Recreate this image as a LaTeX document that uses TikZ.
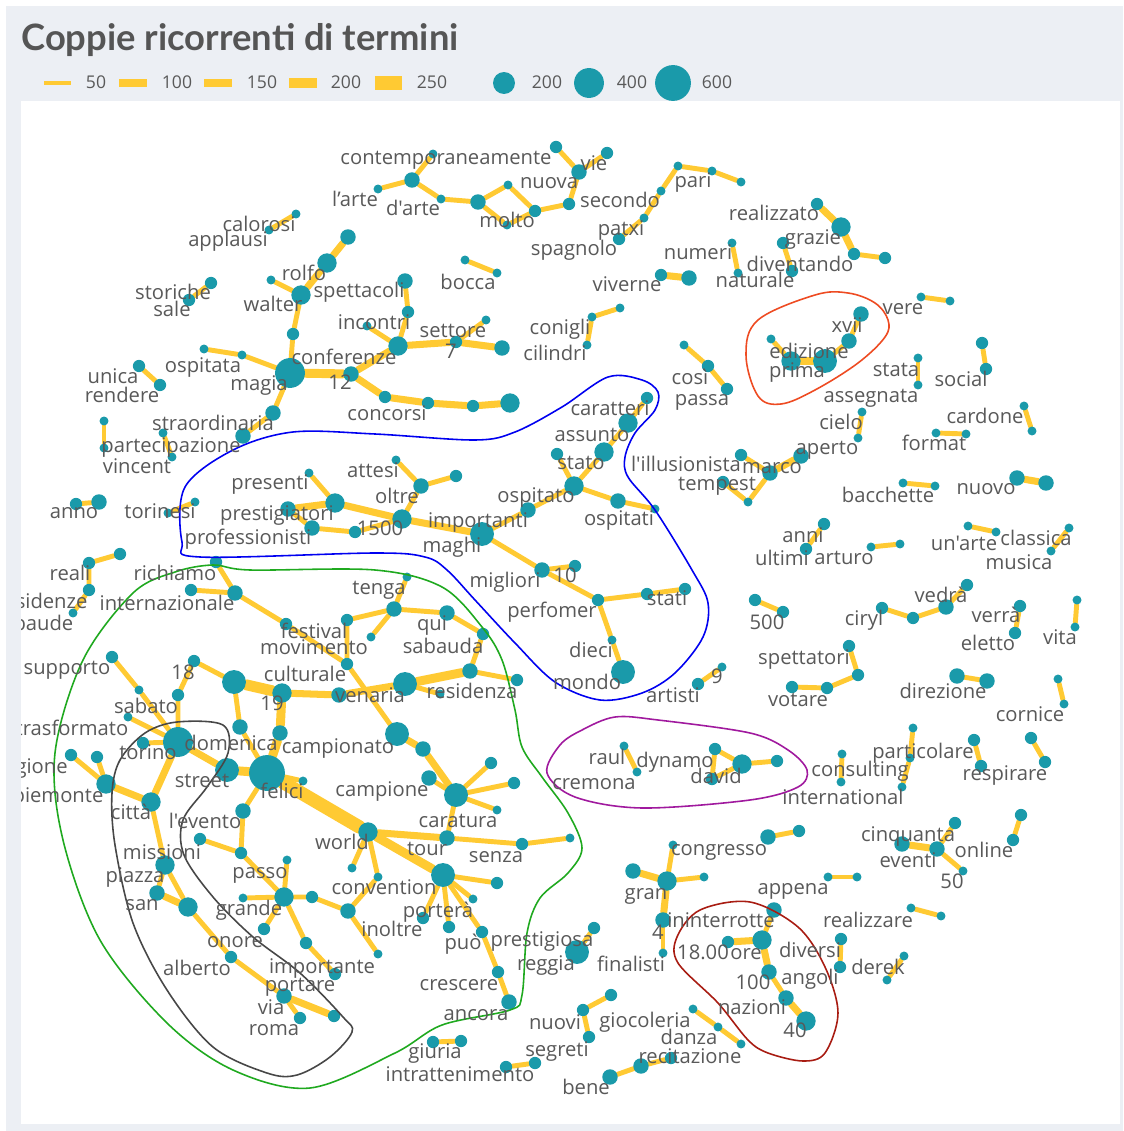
\documentclass[tikz,border=0pt]{standalone}
\usepackage{fontspec}
\setmainfont{Open Sans}[Ligatures=TeXOff]
\newfontfamily\titlefont{Lato}
\usetikzlibrary{backgrounds}

\definecolor{nodeteal}{HTML}{1A9AAA}
\definecolor{edgeyellow}{HTML}{FFCA33}
\definecolor{wordgrey}{HTML}{595959}
\definecolor{titlegrey}{HTML}{555555}
\definecolor{panelgrey}{HTML}{ECEFF4}
\definecolor{hullblue}{HTML}{0000F0}
\definecolor{hullorange}{HTML}{EE4B22}
\definecolor{hullgreen}{HTML}{1FA91F}
\definecolor{hullpurple}{HTML}{A0199E}
\definecolor{hullred}{HTML}{A81C12}
\definecolor{hullgrey}{HTML}{474747}

\begin{document}
\begin{tikzpicture}[x=0.02cm,y=-0.02cm,
  dot1/.style={circle,fill=nodeteal,inner sep=0pt,minimum size=5.1pt},
  dot2/.style={dot1,minimum size=7pt},
  dot3/.style={dot1,minimum size=8.8pt},
  dot4/.style={dot1,minimum size=11pt},
  dot5/.style={dot1,minimum size=13.6pt},
  dot6/.style={dot1,minimum size=17pt},
  dot7/.style={dot1,minimum size=20.4pt},
  link1/.style={draw=edgeyellow,line width=2.8pt,line cap=round},
  link2/.style={link1,line width=4pt},
  link3/.style={link1,line width=5.1pt},
  link4/.style={link1,line width=6.2pt},
  link5/.style={link1,line width=7.6pt},
  lbl/.style={font=\fontsize{11.5}{12.5}\selectfont,text=wordgrey,inner sep=0pt,anchor=mid,yshift=-1.8pt},
  key/.style={font=\fontsize{10}{11}\selectfont,text=wordgrey,inner sep=0pt,anchor=mid},
  hull/.style={line width=0.9pt},
  ]

  \useasboundingbox (0,0) rectangle (1123,1131);
  \begin{pgfonlayer}{background}
    \fill[panelgrey] (6,6) rectangle (1123,1131);
    \fill[white] (21,101) rectangle (1120,1124);
  \end{pgfonlayer}

  % title
  \node[anchor=base west,inner sep=0pt,text=titlegrey,
    font=\titlefont\bfseries\fontsize{20.7}{24}\selectfont] (title) at (21,51) {Coppie ricorrenti di termini};

  % legend
  \draw[link1,line cap=butt] (44,83) -- (71,83);
  \node[key] (k50) at (96,84) {50};
  \draw[link2,line cap=butt] (119,83) -- (147,83);
  \node[key] (k100) at (177,84) {100};
  \draw[link3,line cap=butt] (204,83) -- (232,83);
  \node[key] (k150) at (262,84) {150};
  \draw[link4,line cap=butt] (289,83) -- (317,83);
  \node[key] (k200) at (346,84) {200};
  \draw[link5,line cap=butt] (375,83) -- (402,83);
  \node[key] (k250) at (432,84) {250};
  \node[dot1,minimum size=12.5pt] (c200) at (504,83) {};
  \node[key] (kc200) at (547,84) {200};
  \node[dot1,minimum size=17pt] (c400) at (589,83) {};
  \node[key] (kc400) at (632,84) {400};
  \node[dot1,minimum size=20.4pt] (c600) at (673,83) {};
  \node[key] (kc600) at (717,84) {600};

  % l'arte, molto, vie
  \node[dot1] (larte) at (378,189) {};
  \node[dot3] (arte) at (412,180) {};
  \node[dot1] (contemp) at (433,154) {};
  \node[dot1] (darte) at (441,199) {};
  \node[dot3] (molto) at (478,202) {};
  \node[dot1] (molto2) at (508,185) {};
  \node[dot1] (molto3) at (507,225) {};
  \node[dot2] (nuova) at (535,211) {};
  \node[dot2] (secondo) at (569,204) {};
  \node[dot3] (vie) at (579,172) {};
  \node[dot2] (vie2) at (556,147) {};
  \node[dot2] (vie3) at (607,153) {};

  % pari, patxi
  \node[dot2] (spagnolo) at (619,239) {};
  \node[dot1] (patxi) at (644,218) {};
  \node[dot1] (pari3) at (661,191) {};
  \node[dot1] (pari) at (678,166) {};
  \node[dot1] (pari1) at (712,171) {};
  \node[dot1] (pari2) at (741,182) {};

  % grazie, diventando, numeri
  \node[dot2] (realiz) at (817,204) {};
  \node[dot4] (grazie) at (841,227) {};
  \node[dot2] (grazie2) at (854,254) {};
  \node[dot2] (grazie3) at (885,258) {};
  \node[dot2] (divent) at (783,243) {};
  \node[dot2] (natur) at (792,271) {};
  \node[dot1] (numeri) at (732,243) {};
  \node[dot1] (numeri2) at (738,273) {};

  % bocca, viverne, calorosi
  \node[dot1] (bocca) at (465,260) {};
  \node[dot1] (bocca2) at (497,273) {};
  \node[dot2] (viverne) at (661,275) {};
  \node[dot3] (viverne2) at (689,278) {};
  \node[dot1] (calorosi) at (296,214) {};
  \node[dot1] (applausi) at (269,230) {};

  % magia, conferenze
  \node[dot3] (rolfo2) at (348,237) {};
  \node[dot4] (rolfo) at (327,263) {};
  \node[dot1] (walter2) at (271,280) {};
  \node[dot4] (walter) at (301,295) {};
  \node[dot2] (magia3) at (293,334) {};
  \node[dot6] (magia) at (290,373) {};
  \node[dot1] (ospitata) at (204,349) {};
  \node[dot1] (ospitata2) at (242,355) {};
  \node[dot3] (dodici) at (351,374) {};
  \node[dot3] (straord) at (273,413) {};
  \node[dot3] (straord2) at (243,436) {};
  \node[dot3] (spettac) at (405,281) {};
  \node[dot2] (incontri) at (408,312) {};
  \node[dot1] (incontri2) at (367,326) {};
  \node[dot4] (confer) at (398,346) {};
  \node[dot2] (sette) at (456,342) {};
  \node[dot1] (settore) at (486,320) {};
  \node[dot3] (settore3) at (502,348) {};
  \node[dot2] (conc1) at (385,397) {};
  \node[dot2] (conc2) at (428,403) {};
  \node[dot2] (conc3) at (473,406) {};
  \node[dot4] (conc4) at (510,403) {};

  % storiche, unica, partecipazione, anno, torinesi
  \node[dot2] (storiche) at (211,283) {};
  \node[dot2] (sale) at (189,300) {};
  \node[dot2] (unica) at (139,366) {};
  \node[dot2] (rendere) at (160,385) {};
  \node[dot1] (partec) at (104,421) {};
  \node[dot1] (partec2) at (104,448) {};
  \node[dot1] (vincent) at (163,433) {};
  \node[dot1] (vincent2) at (172,457) {};
  \node[dot2] (anno) at (76,504) {};
  \node[dot3] (anno2) at (99,502) {};
  \node[dot1] (torinesi) at (168,513) {};
  \node[dot1] (torinesi2) at (195,502) {};

  % maghi, ospitato, mondo
  \node[dot1] (presenti) at (309,473) {};
  \node[dot4] (prestig) at (335,503) {};
  \node[dot3] (prestig2) at (288,509) {};
  \node[dot3] (profess) at (312,528) {};
  \node[dot2] (profess2) at (355,532) {};
  \node[dot4] (mille) at (402,519) {};
  \node[dot3] (oltre) at (421,486) {};
  \node[dot2] (oltre2) at (456,476) {};
  \node[dot1] (attesi) at (396,460) {};
  \node[dot5] (maghi) at (482,534) {};
  \node[dot3] (importanti) at (528,510) {};
  \node[dot4] (ospitato) at (574,486) {};
  \node[dot2] (stato) at (557,454) {};
  \node[dot4] (assunto) at (604,452) {};
  \node[dot4] (caratteri) at (628,423) {};
  \node[dot2] (caratteri2) at (647,398) {};
  \node[dot3] (ospitati) at (618,501) {};
  \node[dot1] (ospitati2) at (655,509) {};
  \node[dot3] (migliori) at (542,570) {};
  \node[dot2] (dieci10) at (575,566) {};
  \node[dot2] (perfomer) at (598,600) {};
  \node[dot2] (stati) at (647,594) {};
  \node[dot2] (stati2) at (685,589) {};
  \node[dot1] (dieci) at (612,640) {};
  \node[dot5] (mondo) at (623,672) {};

  % cosi, conigli
  \node[dot1] (cosi) at (684,345) {};
  \node[dot2] (cosi2) at (708,366) {};
  \node[dot2] (passa) at (727,389) {};
  \node[dot1] (conigli) at (620,308) {};
  \node[dot1] (conigli2) at (592,317) {};
  \node[dot1] (cilindri) at (587,345) {};

  % edizione, prima, xvii
  \node[dot1] (edizione) at (771,339) {};
  \node[dot4] (prima) at (791,361) {};
  \node[dot5] (prima2) at (825,361) {};
  \node[dot3] (xvii2) at (849,341) {};
  \node[dot3] (xvii) at (861,314) {};

  % small pairs on the right
  \node[dot1] (vere) at (921,297) {};
  \node[dot1] (vere2) at (950,301) {};
  \node[dot1] (stata) at (918,358) {};
  \node[dot1] (assegnata) at (918,385) {};
  \node[dot2] (social) at (982,343) {};
  \node[dot2] (social2) at (986,369) {};
  \node[dot1] (cielo) at (862,412) {};
  \node[dot1] (cielo2) at (858,438) {};
  \node[dot1] (cardone) at (1024,406) {};
  \node[dot1] (cardone2) at (1032,431) {};
  \node[dot1] (format) at (936,433) {};
  \node[dot1] (format2) at (966,434) {};
  \node[dot1] (bacchette) at (903,483) {};
  \node[dot1] (bacchette2) at (935,486) {};
  \node[dot3] (nuovo) at (1017,478) {};
  \node[dot3] (nuovo2) at (1046,483) {};
  \node[dot2] (anni) at (824,524) {};
  \node[dot2] (ultimi) at (806,549) {};
  \node[dot1] (arturo) at (871,547) {};
  \node[dot1] (arturo2) at (900,544) {};
  \node[dot1] (unarte) at (968,526) {};
  \node[dot1] (unarte2) at (996,532) {};
  \node[dot1] (classica) at (1069,528) {};
  \node[dot1] (musica) at (1051,551) {};

  % l'illusionista, marco, aperto
  \node[dot2] (illus) at (741,455) {};
  \node[dot3] (marco) at (770,473) {};
  \node[dot3] (aperto) at (801,456) {};
  \node[dot1] (tempest) at (748,502) {};
  \node[dot2] (tempest2) at (723,482) {};

  % reali, richiamo
  \node[dot2] (reali) at (120,554) {};
  \node[dot2] (reali2) at (89,563) {};
  \node[dot2] (residenze) at (89,590) {};
  \node[dot1] (sabaude) at (73,613) {};
  \node[dot2] (richiamo) at (216,562) {};
  \node[dot3] (internaz) at (235,593) {};
  \node[dot2] (internaz2) at (191,590) {};
  \node[dot2] (festival) at (286,624) {};

  % tenga, venaria, residenza
  \node[dot1] (tenga1) at (407,577) {};
  \node[dot3] (tenga) at (394,609) {};
  \node[dot2] (tenga2) at (347,620) {};
  \node[dot1] (tenga3) at (371,637) {};
  \node[dot2] (movim) at (347,664) {};
  \node[dot3] (qui) at (447,613) {};
  \node[dot2] (sabauda) at (483,634) {};
  \node[dot3] (resid) at (470,671) {};
  \node[dot2] (resid2) at (517,680) {};
  \node[dot5] (venaria) at (405,684) {};
  \node[dot1] (venaria2) at (440,694) {};
  \node[dot3] (venaria3) at (339,695) {};

  % domenica, felici
  \node[dot4] (dicianove) at (282,693) {};
  \node[dot5] (cultur) at (234,682) {};
  \node[dot2] (diciotto) at (194,661) {};
  \node[dot2] (diciotto2) at (178,695) {};
  \node[dot6] (domenica) at (178,742) {};
  \node[dot2] (supporto) at (112,657) {};
  \node[dot1] (supporto2) at (139,690) {};
  \node[dot1] (sabato) at (128,717) {};
  \node[dot2] (torino) at (143,743) {};
  \node[dot3] (campion1) at (240,727) {};
  \node[dot3] (campion2) at (280,733) {};
  \node[dot5] (street) at (227,770) {};
  \node[dot7] (felici) at (267,773) {};
  \node[dot1] (felici2) at (303,781) {};
  \node[dot4] (world) at (368,832) {};
  \node[dot4] (citta) at (151,802) {};
  \node[dot4] (piemonte) at (106,784) {};
  \node[dot2] (regione) at (71,755) {};
  \node[dot2] (regione2) at (97,757) {};
  \node[dot3] (evento) at (243,811) {};

  % missioni, grande, via
  \node[dot2] (passo0) at (200,839) {};
  \node[dot2] (passo) at (241,853) {};
  \node[dot4] (missioni) at (165,865) {};
  \node[dot3] (san) at (157,893) {};
  \node[dot4] (piazza) at (188,907) {};
  \node[dot2] (onore) at (231,957) {};
  \node[dot3] (via) at (284,996) {};
  \node[dot2] (roma) at (300,1018) {};
  \node[dot2] (via2) at (334,1016) {};
  \node[dot4] (grande) at (284,897) {};
  \node[dot1] (grande1) at (287,860) {};
  \node[dot1] (grande2) at (243,898) {};
  \node[dot2] (grande3) at (312,897) {};
  \node[dot2] (grande4) at (264,929) {};
  \node[dot2] (grande5) at (306,943) {};
  \node[dot2] (importante) at (335,974) {};
  \node[dot3] (inoltre) at (348,911) {};
  \node[dot1] (conv1) at (352,868) {};
  \node[dot1] (conv2) at (378,877) {};
  \node[dot1] (inoltre2) at (378,954) {};

  % campionato, caratura, porterà
  \node[dot5] (campion) at (397,734) {};
  \node[dot3] (campione1) at (423,749) {};
  \node[dot3] (campione2) at (429,778) {};
  \node[dot5] (caratura) at (456,795) {};
  \node[dot2] (carat1) at (491,763) {};
  \node[dot2] (carat2) at (514,783) {};
  \node[dot1] (carat3) at (497,810) {};
  \node[dot3] (tour) at (447,838) {};
  \node[dot2] (senza) at (522,844) {};
  \node[dot1] (senza2) at (570,838) {};
  \node[dot5] (portera) at (443,875) {};
  \node[dot2] (port1) at (497,883) {};
  \node[dot1] (port2) at (473,899) {};
  \node[dot2] (port3) at (423,918) {};
  \node[dot2] (port4) at (449,927) {};
  \node[dot2] (puo) at (482,932) {};
  \node[dot2] (crescere) at (498,972) {};
  \node[dot3] (ancora) at (509,1002) {};

  % reggia, gran, finalisti
  \node[dot5] (reggia) at (577,952) {};
  \node[dot2] (prestigiosa) at (594,928) {};
  \node[dot3] (gran) at (633,871) {};
  \node[dot4] (gran2) at (667,881) {};
  \node[dot1] (congresso) at (673,845) {};
  \node[dot1] (gran3) at (704,877) {};
  \node[dot3] (quattro) at (663,920) {};
  \node[dot1] (finalisti) at (663,953) {};
  \node[dot3] (congresso2) at (768,837) {};
  \node[dot2] (congresso3) at (799,831) {};

  % 18.00 ore, nazioni
  \node[dot3] (ininterr) at (774,910) {};
  \node[dot4] (ore) at (762,940) {};
  \node[dot2] (diciotto00) at (728,942) {};
  \node[dot3] (cento) at (769,972) {};
  \node[dot3] (nazioni) at (786,998) {};
  \node[dot4] (quaranta) at (806,1021) {};
  \node[dot2] (diversi) at (841,939) {};
  \node[dot2] (angoli) at (840,967) {};
  \node[dot1] (derek) at (904,956) {};
  \node[dot1] (derek2) at (887,980) {};
  \node[dot1] (realizzare) at (911,908) {};
  \node[dot1] (realizzare2) at (941,916) {};
  \node[dot1] (appena) at (828,877) {};
  \node[dot1] (appena2) at (857,877) {};

  % cinquanta, online
  \node[dot2] (cinquanta) at (955,823) {};
  \node[dot3] (eventi) at (937,849) {};
  \node[dot3] (eventi2) at (902,844) {};
  \node[dot1] (cinquanta50) at (963,871) {};
  \node[dot2] (online) at (1021,815) {};
  \node[dot2] (online2) at (1013,840) {};

  % giuria, nuovi, bene, danza
  \node[dot2] (giuria) at (433,1042) {};
  \node[dot2] (giuria2) at (461,1041) {};
  \node[dot2] (intratt) at (506,1067) {};
  \node[dot2] (intratt2) at (535,1063) {};
  \node[dot2] (giocoleria) at (611,995) {};
  \node[dot2] (nuovi) at (583,1010) {};
  \node[dot2] (segreti) at (589,1037) {};
  \node[dot3] (bene) at (610,1077) {};
  \node[dot3] (recitaz) at (641,1066) {};
  \node[dot2] (recitaz2) at (671,1058) {};
  \node[dot1] (danza) at (693,1009) {};
  \node[dot1] (danza2) at (718,1027) {};
  \node[dot1] (danza3) at (741,1044) {};

  % 500, ciryl, verrà, vita
  \node[dot2] (cinquecento) at (755,600) {};
  \node[dot2] (cinquecento2) at (783,612) {};
  \node[dot2] (ciryl) at (882,608) {};
  \node[dot2] (ciryl2) at (913,618) {};
  \node[dot3] (vedra) at (946,607) {};
  \node[dot2] (vedra2) at (967,585) {};
  \node[dot2] (verra) at (1020,606) {};
  \node[dot2] (eletto) at (1015,633) {};
  \node[dot1] (vita) at (1077,600) {};
  \node[dot1] (vita2) at (1075,627) {};

  % spettatori, direzione, cornice
  \node[dot2] (spettat) at (849,646) {};
  \node[dot2] (spettat2) at (858,675) {};
  \node[dot2] (votare) at (827,688) {};
  \node[dot2] (votare2) at (792,687) {};
  \node[dot3] (direzione) at (957,676) {};
  \node[dot3] (direzione2) at (987,681) {};
  \node[dot1] (cornice) at (1058,679) {};
  \node[dot1] (cornice2) at (1064,704) {};

  % consulting, particolare, respirare
  \node[dot1] (consult) at (842,754) {};
  \node[dot1] (internat) at (841,782) {};
  \node[dot1] (partic) at (913,728) {};
  \node[dot1] (partic2) at (910,758) {};
  \node[dot1] (partic3) at (902,787) {};
  \node[dot2] (respir) at (974,740) {};
  \node[dot2] (respir2) at (981,766) {};
  \node[dot2] (respir3) at (1031,738) {};
  \node[dot2] (respir4) at (1045,762) {};

  % artisti, raul, dynamo
  \node[dot2] (artisti) at (698,684) {};
  \node[dot1] (nove) at (722,667) {};
  \node[dot1] (raul) at (624,746) {};
  \node[dot1] (cremona) at (637,772) {};
  \node[dot2] (dynamo) at (715,749) {};
  \node[dot4] (david) at (742,764) {};
  \node[dot2] (david2) at (712,779) {};
  \node[dot2] (david3) at (777,761) {};

  % connectors
  \begin{pgfonlayer}{background}
    \draw[link1] (larte) -- (arte) -- (contemp);
    \draw[link1] (arte) -- (darte) -- (molto) -- (molto2) -- (nuova);
    \draw[link1] (molto) -- (molto3) -- (nuova) -- (secondo) -- (vie) -- (vie3);
    \draw[link1] (vie2) -- (vie);
    \draw[link1] (spagnolo) -- (patxi) -- (pari3) -- (pari) -- (pari1) -- (pari2);
    \draw[link2] (realiz) -- (grazie) -- (grazie2);
    \draw[link1] (grazie2) -- (grazie3);
    \draw[link1] (divent) -- (natur);
    \draw[link1] (numeri) -- (numeri2);
    \draw[link1] (bocca) -- (bocca2);
    \draw[link2] (viverne) -- (viverne2);
    \draw[link1] (calorosi) -- (applausi);

    \draw[link2] (rolfo2) -- (rolfo) -- (walter);
    \draw[link1] (walter2) -- (walter) -- (magia3) -- (magia);
    \draw[link1] (ospitata) -- (ospitata2) -- (magia);
    \draw[link3] (magia) -- (dodici);
    \draw[link2] (dodici) -- (confer);
    \draw[link1] (magia) -- (straord) -- (straord2);
    \draw[link2] (dodici) -- (conc1) -- (conc2) -- (conc3) -- (conc4);
    \draw[link1] (spettac) -- (incontri) -- (confer);
    \draw[link1] (incontri2) -- (confer);
    \draw[link2] (confer) -- (sette) -- (settore3);
    \draw[link1] (sette) -- (settore);

    \draw[link1] (storiche) -- (sale);
    \draw[link1] (unica) -- (rendere);
    \draw[link1] (partec) -- (partec2);
    \draw[link1] (vincent) -- (vincent2);
    \draw[link1] (anno) -- (anno2);
    \draw[link1] (torinesi) -- (torinesi2);

    \draw[link1] (presenti) -- (prestig);
    \draw[link2] (prestig2) -- (prestig) -- (mille);
    \draw[link1] (prestig2) -- (profess) -- (profess2) -- (mille);
    \draw[link1] (attesi) -- (oltre) -- (oltre2);
    \draw[link1] (mille) -- (oltre);
    \draw[link2] (mille) -- (maghi);
    \draw[link1] (maghi) -- (importanti) -- (ospitato) -- (assunto) -- (caratteri) -- (caratteri2);
    \draw[link1] (stato) -- (ospitato) -- (ospitati) -- (ospitati2);
    \draw[link1] (maghi) -- (migliori) -- (dieci10);
    \draw[link1] (migliori) -- (perfomer) -- (stati) -- (stati2);
    \draw[link1] (perfomer) -- (dieci) -- (mondo);

    \draw[link1] (cosi) -- (cosi2) -- (passa);
    \draw[link1] (conigli) -- (conigli2) -- (cilindri);
    \draw[link1] (edizione) -- (prima);
    \draw[link3] (prima) -- (prima2);
    \draw[link1] (prima2) -- (xvii2) -- (xvii);
    \draw[link1] (vere) -- (vere2);
    \draw[link1] (stata) -- (assegnata);
    \draw[link1] (social) -- (social2);
    \draw[link1] (cielo) -- (cielo2);
    \draw[link1] (cardone) -- (cardone2);
    \draw[link1] (format) -- (format2);
    \draw[link1] (bacchette) -- (bacchette2);
    \draw[link2] (nuovo) -- (nuovo2);
    \draw[link1] (anni) -- (ultimi);
    \draw[link1] (arturo) -- (arturo2);
    \draw[link1] (unarte) -- (unarte2);
    \draw[link1] (classica) -- (musica);
    \draw[link1] (illus) -- (marco) -- (tempest) -- (tempest2);
    \draw[link2] (aperto) -- (marco);

    \draw[link1] (reali) -- (reali2) -- (residenze) -- (sabaude);
    \draw[link1] (richiamo) -- (internaz) -- (festival) -- (movim);
    \draw[link1] (internaz2) -- (internaz);
    \draw[link1] (tenga1) -- (tenga) -- (tenga2) -- (movim);
    \draw[link1] (tenga3) -- (tenga) -- (qui) -- (sabauda) -- (resid) -- (resid2);
    \draw[link3] (resid) -- (venaria);
    \draw[link1] (venaria) -- (venaria2);
    \draw[link2] (venaria) -- (venaria3) -- (dicianove);
    \draw[link4] (dicianove) -- (cultur);
    \draw[link1] (cultur) -- (diciotto) -- (diciotto2) -- (domenica);
    \draw[link1] (supporto) -- (supporto2) -- (domenica);
    \draw[link1] (sabato) -- (domenica) -- (torino);
    \draw[link1] (cultur) -- (campion1) -- (felici);
    \draw[link3] (dicianove) -- (campion2) -- (felici);
    \draw[link2] (domenica) -- (street);
    \draw[link3] (street) -- (felici);
    \draw[link5] (felici) -- (world);
    \draw[link1] (felici) -- (felici2);
    \draw[link1] (movim) -- (campion);
    \draw[link2] (campion) -- (campione1) -- (caratura);
    \draw[link1] (campione2) -- (caratura) -- (carat1);
    \draw[link1] (carat2) -- (caratura) -- (carat3);
    \draw[link1] (caratura) -- (tour) -- (senza) -- (senza2);
    \draw[link2] (world) -- (tour);
    \draw[link3] (world) -- (portera);
    \draw[link1] (port1) -- (portera) -- (port2);
    \draw[link1] (port3) -- (portera) -- (port4);
    \draw[link1] (portera) -- (puo) -- (crescere) -- (ancora);
    \draw[link2] (domenica) -- (citta) -- (piemonte);
    \draw[link1] (regione) -- (piemonte) -- (regione2);
    \draw[link1] (felici) -- (evento) -- (passo) -- (grande);
    \draw[link1] (passo0) -- (passo);
    \draw[link1] (citta) -- (missioni) -- (san);
    \draw[link1] (missioni) -- (piazza);
    \draw[link2] (san) -- (piazza);
    \draw[link1] (piazza) -- (onore) -- (via) -- (roma);
    \draw[link2] (via) -- (via2);
    \draw[link1] (grande1) -- (grande) -- (grande2);
    \draw[link1] (grande4) -- (grande) -- (grande3) -- (inoltre);
    \draw[link1] (grande) -- (grande5) -- (importante);
    \draw[link1] (world) -- (conv1);
    \draw[link1] (inoltre) -- (conv2) -- (world);
    \draw[link1] (inoltre) -- (inoltre2);

    \draw[link1] (reggia) -- (prestigiosa);
    \draw[link2] (gran) -- (gran2) -- (quattro);
    \draw[link1] (congresso) -- (gran2) -- (gran3);
    \draw[link1] (quattro) -- (finalisti);
    \draw[link1] (congresso2) -- (congresso3);
    \draw[link1] (ininterr) -- (ore);
    \draw[link2] (diciotto00) -- (ore) -- (cento);
    \draw[link1] (cento) -- (nazioni);
    \draw[link2] (nazioni) -- (quaranta);
    \draw[link1] (diversi) -- (angoli);
    \draw[link1] (derek) -- (derek2);
    \draw[link1] (realizzare) -- (realizzare2);
    \draw[link1] (appena) -- (appena2);
    \draw[link2] (eventi2) -- (eventi);
    \draw[link1] (cinquanta) -- (eventi) -- (cinquanta50);
    \draw[link1] (online) -- (online2);
    \draw[link1] (giuria) -- (giuria2);
    \draw[link1] (intratt) -- (intratt2);
    \draw[link1] (giocoleria) -- (nuovi) -- (segreti);
    \draw[link1] (bene) -- (recitaz) -- (recitaz2);
    \draw[link1] (danza) -- (danza2) -- (danza3);
    \draw[link1] (cinquecento) -- (cinquecento2);
    \draw[link1] (ciryl) -- (ciryl2) -- (vedra) -- (vedra2);
    \draw[link1] (verra) -- (eletto);
    \draw[link1] (vita) -- (vita2);
    \draw[link1] (spettat) -- (spettat2) -- (votare) -- (votare2);
    \draw[link1] (direzione) -- (direzione2);
    \draw[link1] (cornice) -- (cornice2);
    \draw[link1] (consult) -- (internat);
    \draw[link1] (partic) -- (partic2) -- (partic3);
    \draw[link1] (respir) -- (respir2);
    \draw[link1] (respir3) -- (respir4);
    \draw[link1] (artisti) -- (nove);
    \draw[link1] (raul) -- (cremona);
    \draw[link1] (dynamo) -- (david) -- (david2) -- (dynamo);
    \draw[link1] (david) -- (david3);
  \end{pgfonlayer}

  % hulls
  \draw[hullblue,hull] plot[smooth cycle,tension=0.55] coordinates {
    (185,487) (233,450) (293,432) (375,434) (475,440) (515,432) (562,407)
    (608,377) (642,380) (658,392) (655,410) (635,433) (625,457) (628,477)
    (655,510) (692,570) (708,603) (703,637) (675,673) (642,693) (600,700)
    (555,682) (515,643) (475,600) (447,570) (425,557) (375,553) (200,557)
    (182,542)};
  \draw[hullorange,hull] plot[smooth cycle,tension=0.6] coordinates {
    (746,355) (758,320) (815,295) (848,293) (875,303) (888,320) (885,337)
    (858,363) (815,390) (781,404) (758,396)};
  \draw[hullgreen,hull] plot[smooth cycle,tension=0.55] coordinates {
    (213,565) (250,570) (375,570) (442,587) (482,627) (502,660) (515,710)
    (522,747) (542,777) (568,813) (582,848) (568,873) (540,898) (527,933)
    (522,995) (510,1010) (442,1025) (395,1053) (310,1088) (233,1070)
    (167,1023) (100,940) (63,840) (55,753) (83,660) (133,593) (175,572)};
  \draw[hullgrey,hull] plot[smooth cycle,tension=0.55] coordinates {
    (177,722) (223,725) (228,753) (207,787) (183,820) (184,855) (213,897)
    (253,937) (300,973) (343,1017) (352,1032) (330,1057) (297,1075)
    (267,1073) (213,1047) (167,990) (133,923) (115,845) (112,793) (120,760)
    (145,733)};
  \draw[hullpurple,hull] plot[smooth cycle,tension=0.55] coordinates {
    (547,773) (560,745) (582,730) (615,717) (658,720) (750,733) (788,750)
    (807,770) (798,787) (750,800) (642,808) (575,797)};
  \draw[hullred,hull] plot[smooth cycle,tension=0.55] coordinates {
    (677,937) (700,910) (750,902) (798,927) (825,967) (838,1013) (825,1053)
    (803,1061) (768,1053) (748,1040) (718,1003) (678,963)};

  % words
  \begin{scope}
  \clip (21,101) rectangle (1120,1124);
  \node[lbl] (w-contemp) at (446,157) {contemporaneamente};
  \node[lbl] (w-larte) at (355,199) {l’arte};
  \node[lbl] (w-darte) at (413,208) {d'arte};
  \node[lbl] (w-molto) at (507,220) {molto};
  \node[lbl] (w-nuova) at (549,181) {nuova};
  \node[lbl] (w-vie) at (594,163) {vie};
  \node[lbl] (w-secondo) at (620,200) {secondo};
  \node[lbl] (w-pari) at (693,180) {pari};
  \node[lbl] (w-patxi) at (621,228) {patxi};
  \node[lbl] (w-spagnolo) at (574,248) {spagnolo};
  \node[lbl] (w-realiz) at (774,213) {realizzato};
  \node[lbl] (w-grazie) at (813,237) {grazie};
  \node[lbl] (w-divent) at (800,264) {diventando};
  \node[lbl] (w-natur) at (755,280) {naturale};
  \node[lbl] (w-numeri) at (698,252) {numeri};
  \node[lbl] (w-bocca) at (468,282) {bocca};
  \node[lbl] (w-viverne) at (627,284) {viverne};
  \node[lbl] (w-calorosi) at (259,224) {calorosi};
  \node[lbl] (w-applausi) at (228,239) {applausi};
  \node[lbl] (w-rolfo) at (304,273) {rolfo};
  \node[lbl] (w-spettac) at (359,290) {spettacoli};
  \node[lbl] (w-walter) at (273,304) {walter};
  \node[lbl] (w-storiche) at (173,292) {storiche};
  \node[lbl] (w-sale) at (172,309) {sale};
  \node[lbl] (w-incontri) at (374,322) {incontri};
  \node[lbl] (w-settore) at (453,330) {settore};
  \node[lbl] (w-sette) at (451,351) {7};
  \node[lbl] (w-confer) at (344,357) {conferenze};
  \node[lbl] (w-dodici) at (340,382) {12};
  \node[lbl] (w-concorsi) at (387,413) {concorsi};
  \node[lbl] (w-ospitata) at (203,365) {ospitata};
  \node[lbl] (w-magia) at (259,383) {magia};
  \node[lbl] (w-unica) at (113,376) {unica};
  \node[lbl] (w-rendere) at (122,395) {rendere};
  \node[lbl] (w-straord) at (213,423) {straordinaria};
  \node[lbl] (w-partec) at (171,445) {partecipazione};
  \node[lbl] (w-vincent) at (137,466) {vincent};
  \node[lbl] (w-conigli) at (560,327) {conigli};
  \node[lbl] (w-cilindri) at (555,353) {cilindri};
  \node[lbl] (w-cosi) at (690,377) {così};
  \node[lbl] (w-passa) at (702,398) {passa};
  \node[lbl] (w-xvii) at (847,325) {xvii};
  \node[lbl] (w-edizione) at (809,351) {edizione};
  \node[lbl] (w-prima) at (797,370) {prima};
  \node[lbl] (w-vere) at (903,307) {vere};
  \node[lbl] (w-stata) at (896,369) {stata};
  \node[lbl] (w-assegnata) at (871,395) {assegnata};
  \node[lbl] (w-social) at (961,379) {social};
  \node[lbl] (w-cielo) at (841,422) {cielo};
  \node[lbl] (w-cardone) at (985,416) {cardone};
  \node[lbl] (w-format) at (934,443) {format};
  \node[lbl] (w-aperto) at (827,447) {aperto};
  \node[lbl] (w-caratteri) at (610,408) {caratteri};
  \node[lbl] (w-assunto) at (592,434) {assunto};
  \node[lbl] (w-stato) at (581,462) {stato};
  \node[lbl] (w-illus) at (686,464) {l'illusionista};
  \node[lbl] (w-marco) at (772,466) {marco};
  \node[lbl] (w-tempest) at (717,483) {tempest};
  \node[lbl] (w-bacchette) at (888,495) {bacchette};
  \node[lbl] (w-nuovo) at (986,487) {nuovo};
  \node[lbl] (w-presenti) at (270,482) {presenti};
  \node[lbl] (w-attesi) at (373,470) {attesi};
  \node[lbl] (w-oltre) at (397,496) {oltre};
  \node[lbl] (w-prestig) at (277,513) {prestigiatori};
  \node[lbl] (w-mille) at (380,528) {1500};
  \node[lbl] (w-profess) at (248,537) {professionisti};
  \node[lbl] (w-importanti) at (478,520) {importanti};
  \node[lbl] (w-maghi) at (452,545) {maghi};
  \node[lbl] (w-ospitato) at (536,495) {ospitato};
  \node[lbl] (w-ospitati) at (619,518) {ospitati};
  \node[lbl] (w-anno) at (74,511) {anno};
  \node[lbl] (w-torinesi) at (160,511) {torinesi};
  \node[lbl] (w-anni) at (803,535) {anni};
  \node[lbl] (w-ultimi) at (782,558) {ultimi};
  \node[lbl] (w-arturo) at (844,557) {arturo};
  \node[lbl] (w-unarte) at (964,543) {un'arte};
  \node[lbl] (w-classica) at (1036,538) {classica};
  \node[lbl] (w-musica) at (1019,562) {musica};
  \node[lbl] (w-reali) at (70,573) {reali};
  \node[lbl] (w-richiamo) at (175,573) {richiamo};
  \node[lbl] (w-residenze) at (42,601) {residenze};
  \node[lbl] (w-internaz) at (167,603) {internazionale};
  \node[lbl] (w-sabaude) at (33,623) {sabaude};
  \node[lbl] (w-migliori) at (505,580) {migliori};
  \node[lbl] (w-dieci10) at (565,575) {10};
  \node[lbl] (w-tenga) at (379,587) {tenga};
  \node[lbl] (w-perfomer) at (552,610) {perfomer};
  \node[lbl] (w-stati) at (667,598) {stati};
  \node[lbl] (w-qui) at (432,623) {qui};
  \node[lbl] (w-festival) at (314,631) {festival};
  \node[lbl] (w-movim) at (314,647) {movimento};
  \node[lbl] (w-sabauda) at (443,646) {sabauda};
  \node[lbl] (w-dieci) at (591,650) {dieci};
  \node[lbl] (w-supporto) at (67,667) {supporto};
  \node[lbl] (w-diciotto) at (183,672) {18};
  \node[lbl] (w-cultur) at (305,674) {culturale};
  \node[lbl] (w-mondo) at (587,682) {mondo};
  \node[lbl] (w-resid) at (472,691) {residenza};
  \node[lbl] (w-venaria) at (370,695) {venaria};
  \node[lbl] (w-dicianove) at (272,703) {19};
  \node[lbl] (w-artisti) at (673,695) {artisti};
  \node[lbl] (w-nove) at (717,676) {9};
  \node[lbl] (w-sabato) at (146,706) {sabato};
  \node[lbl] (w-trasf) at (72,728) {trasformato};
  \node[lbl] (w-domenica) at (231,743) {domenica};
  \node[lbl] (w-campion) at (338,746) {campionato};
  \node[lbl] (w-torino) at (148,752) {torino};
  \node[lbl] (w-regione) at (32,766) {regione};
  \node[lbl] (w-street) at (202,780) {street};
  \node[lbl] (w-felici) at (282,791) {felici};
  \node[lbl] (w-campione) at (382,789) {campione};
  \node[lbl] (w-piemonte) at (58,795) {piemonte};
  \node[lbl] (w-citta) at (131,812) {città};
  \node[lbl] (w-evento) at (205,821) {l'evento};
  \node[lbl] (w-caratura) at (458,820) {caratura};
  \node[lbl] (w-world) at (342,842) {world};
  \node[lbl] (w-tour) at (427,848) {tour};
  \node[lbl] (w-senza) at (496,855) {senza};
  \node[lbl] (w-missioni) at (162,852) {missioni};
  \node[lbl] (w-passo) at (260,871) {passo};
  \node[lbl] (w-piazza) at (135,875) {piazza};
  \node[lbl] (w-conv) at (384,887) {convention};
  \node[lbl] (w-san) at (142,903) {san};
  \node[lbl] (w-grande) at (249,908) {grande};
  \node[lbl] (w-portera) at (438,910) {porterà};
  \node[lbl] (w-inoltre) at (392,929) {inoltre};
  \node[lbl] (w-onore) at (235,940) {onore};
  \node[lbl] (w-puo) at (463,942) {può};
  \node[lbl] (w-prestigiosa) at (542,939) {prestigiosa};
  \node[lbl] (w-reggia) at (546,963) {reggia};
  \node[lbl] (w-alberto) at (197,968) {alberto};
  \node[lbl] (w-importante) at (322,966) {importante};
  \node[lbl] (w-crescere) at (459,983) {crescere};
  \node[lbl] (w-portare) at (300,984) {portare};
  \node[lbl] (w-via) at (271,1007) {via};
  \node[lbl] (w-ancora) at (476,1013) {ancora};
  \node[lbl] (w-roma) at (274,1028) {roma};
  \node[lbl] (w-giuria) at (435,1051) {giuria};
  \node[lbl] (w-intratt) at (460,1074) {intrattenimento};
  \node[lbl] (w-nuovi) at (555,1022) {nuovi};
  \node[lbl] (w-segreti) at (557,1049) {segreti};
  \node[lbl] (w-giocoleria) at (645,1020) {giocoleria};
  \node[lbl] (w-danza) at (689,1037) {danza};
  \node[lbl] (w-recitaz) at (690,1056) {recitazione};
  \node[lbl] (w-bene) at (586,1087) {bene};
  \node[lbl] (w-congresso) at (719,848) {congresso};
  \node[lbl] (w-gran) at (646,892) {gran};
  \node[lbl] (w-quattro) at (658,932) {4};
  \node[lbl] (w-finalisti) at (631,964) {finalisti};
  \node[lbl] (w-ininterr) at (721,920) {ininterrotte};
  \node[lbl] (w-diciotto00) at (703,952) {18.00};
  \node[lbl] (w-ore) at (746,952) {ore};
  \node[lbl] (w-diversi) at (810,950) {diversi};
  \node[lbl] (w-cento) at (753,982) {100};
  \node[lbl] (w-angoli) at (810,977) {angoli};
  \node[lbl] (w-nazioni) at (752,1007) {nazioni};
  \node[lbl] (w-quaranta) at (795,1030) {40};
  \node[lbl] (w-appena) at (793,887) {appena};
  \node[lbl] (w-realizzare) at (868,920) {realizzare};
  \node[lbl] (w-derek) at (878,967) {derek};
  \node[lbl] (w-cinquanta) at (908,834) {cinquanta};
  \node[lbl] (w-eventi) at (908,860) {eventi};
  \node[lbl] (w-cinquanta50) at (952,881) {50};
  \node[lbl] (w-online) at (984,850) {online};
  \node[lbl] (w-partic) at (923,751) {particolare};
  \node[lbl] (w-consult) at (860,769) {consulting};
  \node[lbl] (w-internat) at (843,797) {international};
  \node[lbl] (w-respir) at (1005,773) {respirare};
  \node[lbl] (w-cornice) at (1030,714) {cornice};
  \node[lbl] (w-direzione) at (943,691) {direzione};
  \node[lbl] (w-votare) at (798,699) {votare};
  \node[lbl] (w-spettat) at (804,657) {spettatori};
  \node[lbl] (w-eletto) at (988,643) {eletto};
  \node[lbl] (w-verra) at (996,615) {verrà};
  \node[lbl] (w-vita) at (1060,637) {vita};
  \node[lbl] (w-vedra) at (941,595) {vedrà};
  \node[lbl] (w-ciryl) at (864,618) {ciryl};
  \node[lbl] (w-cinquecento) at (767,622) {500};
  \node[lbl] (w-raul) at (607,757) {raul};
  \node[lbl] (w-cremona) at (594,782) {cremona};
  \node[lbl] (w-dynamo) at (675,760) {dynamo};
  \node[lbl] (w-david) at (716,776) {david};
  \end{scope}

\end{tikzpicture}
\end{document}
